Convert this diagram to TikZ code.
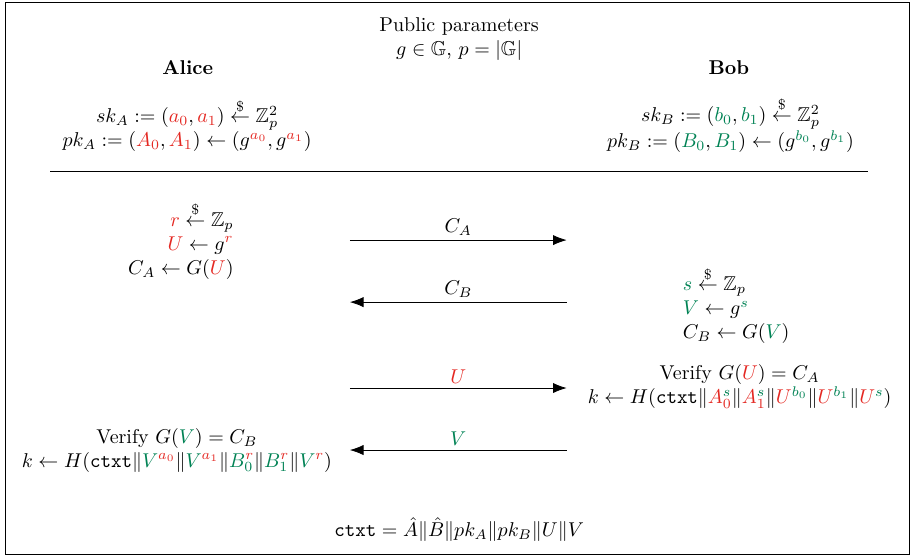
\documentclass[tikz,border=0pt]{standalone}
\usepackage{amsmath,amssymb}
\usetikzlibrary{arrows.meta}
\definecolor{alicered}{RGB}{228,40,34}
\definecolor{bobgreen}{RGB}{0,130,84}
\newcommand{\ar}[1]{\textcolor{alicered}{#1}}
\newcommand{\bg}[1]{\textcolor{bobgreen}{#1}}
\newcommand{\samp}{\stackrel{\$}{\leftarrow}}
\begin{document}
\begin{tikzpicture}[
    msg/.style={-{Latex[length=2.4mm,width=1.8mm]}},
    lbl/.style={above, inner sep=2pt}
  ]
        \useasboundingbox (0,0) rectangle (16.03,-9.79);
        % Frame
        \draw (0.09,-0.05) rectangle (15.99,-9.75);

        % Header
        \node[align=center] (pub) at (8.07,-0.68) {Public parameters\\ $g\in\mathbb{G}$, $p=|\mathbb{G}|$};
        \node (alice) at (3.30,-1.18) {\textbf{Alice}};
        \node (bob) at (12.81,-1.18) {\textbf{Bob}};

        % Long-term keys
        \node[align=center] (keysA) at (3.29,-2.20)
          {$sk_A := (\ar{a_0},\ar{a_1}) \samp \mathbb{Z}_p^2$\\
           $pk_A := (\ar{A_0},\ar{A_1}) \leftarrow (g^{\ar{a_0}},g^{\ar{a_1}})$};
        \node[align=center] (keysB) at (12.84,-2.20)
          {$sk_B := (\bg{b_0},\bg{b_1}) \samp \mathbb{Z}_p^2$\\
           $pk_B := (\bg{B_0},\bg{B_1}) \leftarrow (g^{\bg{b_0}},g^{\bg{b_1}})$};
        \coordinate (ruleL) at (0.88,-3.02);
        \coordinate (ruleR) at (15.25,-3.02);
        \draw (ruleL) -- (ruleR);

        % Commitments
        \node[align=right, anchor=east] (comA) at (4.23,-4.23)
          {$\ar{r} \samp \mathbb{Z}_p$\\ $\ar{U} \leftarrow g^{\ar{r}}$\\ $C_A \leftarrow G(\ar{U})$};
        \node[align=left, anchor=west] (comB) at (11.88,-5.36)
          {$\bg{s} \samp \mathbb{Z}_p$\\ $\bg{V} \leftarrow g^{\bg{s}}$\\ $C_B \leftarrow G(\bg{V})$};

        % Messages
        \coordinate (m1a) at (6.15,-4.22); \coordinate (m1b) at (9.96,-4.22);
        \coordinate (m2a) at (6.15,-5.31); \coordinate (m2b) at (9.96,-5.31);
        \coordinate (m3a) at (6.15,-6.82); \coordinate (m3b) at (9.96,-6.82);
        \coordinate (m4a) at (6.15,-7.91); \coordinate (m4b) at (9.96,-7.91);
        \draw[msg] (m1a) -- node[lbl] {$C_A$} (m1b);
        \draw[msg] (m2b) -- node[lbl] {$C_B$} (m2a);
        \draw[msg] (m3a) -- node[lbl] {$\ar{U}$} (m3b);
        \draw[msg] (m4b) -- node[lbl] {$\bg{V}$} (m4a);

        % Key derivation
        \node[align=center] (keyB) at (13.00,-6.80)
          {Verify $G(\ar{U}) = C_A$\\
           $k \leftarrow H(\texttt{ctxt}\|\ar{A_0^{\bg{s}}}\|\ar{A_1^{\bg{s}}}\|\ar{U}^{\bg{b_0}}\|\ar{U}^{\bg{b_1}}\|\ar{U}^{\bg{s}})$};
        \node[align=center] (keyA) at (3.11,-7.91)
          {Verify $G(\bg{V}) = C_B$\\
           $k \leftarrow H(\texttt{ctxt}\|\bg{V}^{\ar{a_0}}\|\bg{V}^{\ar{a_1}}\|\bg{B_0^{\ar{r}}}\|\bg{B_1^{\ar{r}}}\|\bg{V}^{\ar{r}})$};

        % Context
        \node (ctxt) at (8.07,-9.31) {$\texttt{ctxt} = \hat{A}\|\hat{B}\|pk_A\|pk_B\|U\|V$};
\end{tikzpicture}
\end{document}
